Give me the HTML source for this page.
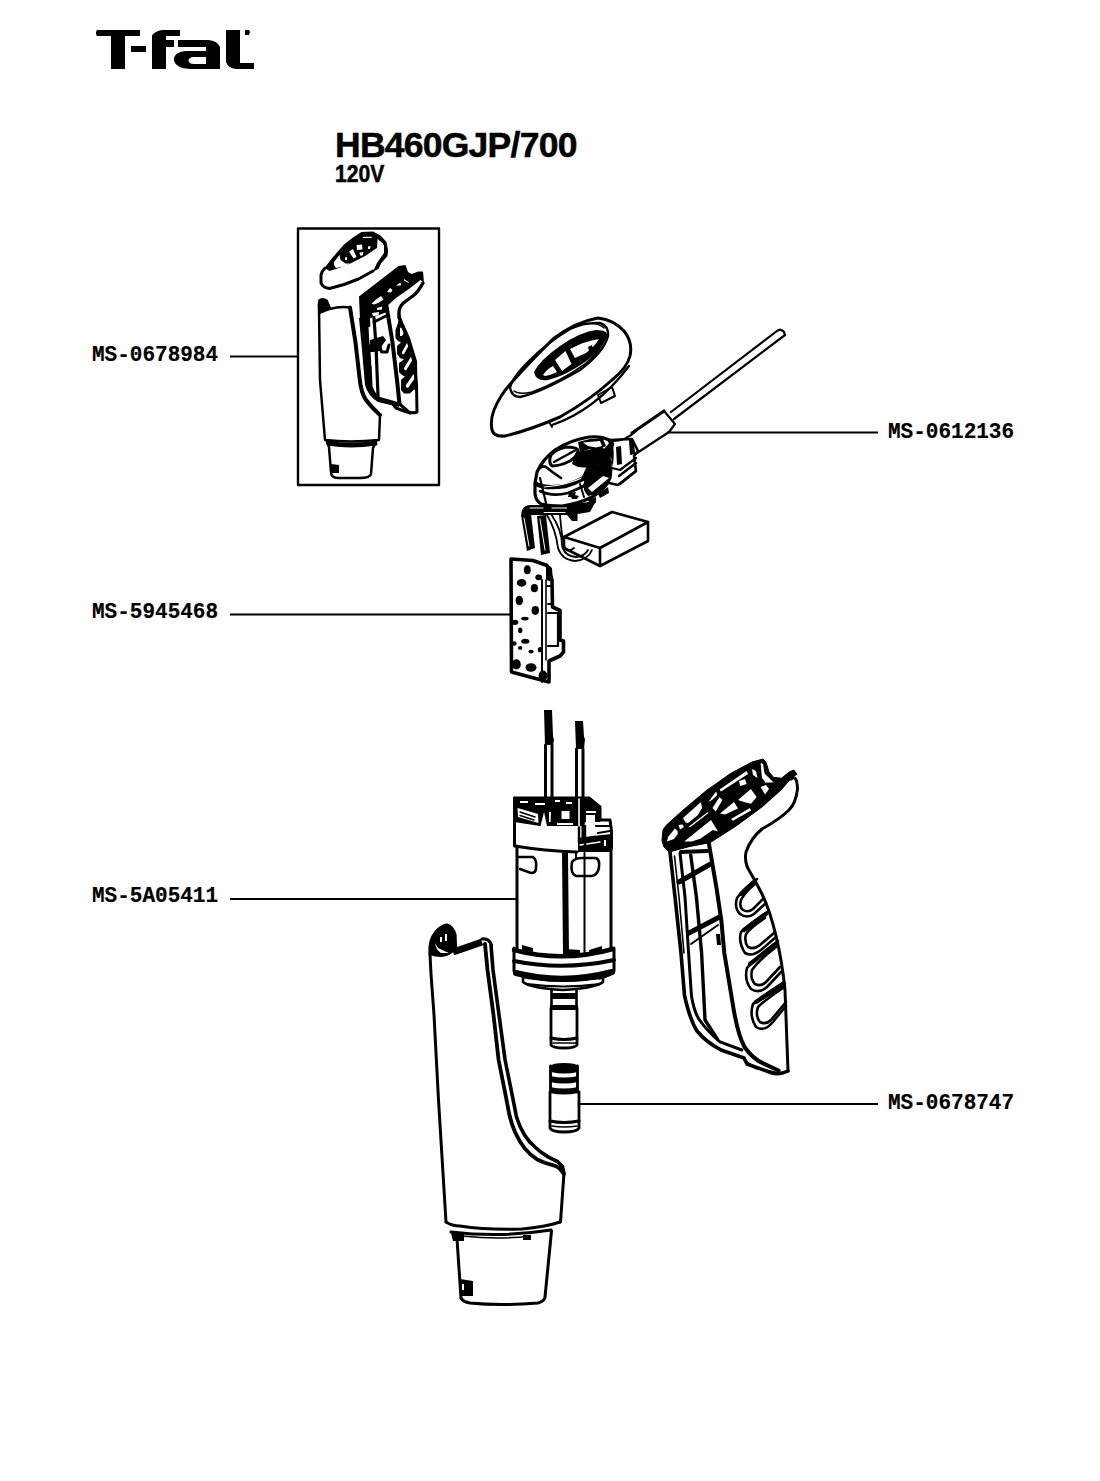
<!DOCTYPE html>
<html><head><meta charset="utf-8">
<style>
html,body{margin:0;padding:0;background:#fff;}
body{width:1100px;height:1481px;position:relative;overflow:hidden;}
.t{position:absolute;white-space:nowrap;color:#000;line-height:1;}
.title{font-family:"Liberation Sans",sans-serif;font-weight:bold;font-size:35.5px;-webkit-text-stroke:0.5px #000;left:335px;top:127.5px;letter-spacing:-0.75px;}
.volt{font-family:"Liberation Sans",sans-serif;font-weight:bold;font-size:23px;-webkit-text-stroke:0.5px #000;left:335px;top:163px;transform:scaleX(0.92);transform-origin:0 0;}
.lab{font-family:"Liberation Mono",monospace;font-weight:bold;font-size:22px;-webkit-text-stroke:0.2px #000;transform:scaleX(0.955);transform-origin:0 0;}
svg{position:absolute;left:0;top:0;}
</style></head><body>
<div class="t title">HB460GJP/700</div>
<div class="t volt">120V</div>
<div class="t lab" id="l1" style="left:92px;top:345px">MS-0678984</div>
<div class="t lab" id="l2" style="left:888px;top:422px">MS-0612136</div>
<div class="t lab" id="l3" style="left:92px;top:602px">MS-5945468</div>
<div class="t lab" id="l4" style="left:92px;top:886px">MS-5A05411</div>
<div class="t lab" id="l5" style="left:888px;top:1093px">MS-0678747</div>
<svg width="1100" height="1481" viewBox="0 0 1100 1481" fill="none" stroke="#000" stroke-width="2" stroke-linejoin="round" stroke-linecap="round">
<!-- logo -->
<g id="logo" fill="#000" stroke="none">
<path d="M97 30H140V36H97Q96 35 96 33Q96 31 97 30Z"/>
<path d="M111 35H125V69H111Z"/>
<path d="M131 46H146V52H131Z"/>
<path d="M152 69V35.5Q155 31 162 30H180V36H166V40H174V47H166V69Z"/>
<path fill-rule="evenodd" d="M178 40H208Q218 41 220 47V69H190Q176 68 174 61V58Q175 52 186 51H206V47H178ZM206 57H193Q188 58 188.5 60.5Q189 64 194 64H206Z"/>
<path d="M226 30H240V63H254V69H236Q228 68 226 62Z"/>
<path d="M245 30H249L250 32L249 35H245Z"/>
</g>
<!-- leader lines -->
<g stroke-width="2" stroke-linecap="butt">
<path d="M230 356.5H298"/>
<path d="M667 432.5H878"/>
<path d="M230 614.5H511"/>
<path d="M230 899H516"/>
<path d="M578 1104H878"/>
</g>
<!-- thumbnail -->
<g id="thumb">
<!-- cap -->
<path fill="#000" stroke="none" d="M324.5 268L333 257L344 244.5L353 237.5L361.5 232L373 231.5L380.5 235.5L386.5 242L388 250L387.5 256L381 263.5L378.5 269L373 271.5L377 263L384 253L384 244.5L377.5 247.5L366 255.5L351.5 263L340.5 267.5L329.5 271Z"/>
<path fill="none" stroke-width="3" d="M373 271L358.5 279L344 284.5L329.5 288.5Q323 288 321 283L321 275Q322 271 325 268"/>
<g fill="#fff" stroke="none">
<path d="M334 262L339.5 255L340.5 260L345.5 263.5H350L344 266.5L336 268L334 265Z"/>
<path d="M349 251.5L353 249L356.5 257L353.5 258.5Z"/>
<path d="M356.5 245L362 244.5L362.5 249.5L357 250Z"/>
<path d="M359.5 252.5L363.5 252L362.5 255.5L360 255.5Z"/>
<path d="M368 246.5L370.5 246L370 249H368Z"/>
<path d="M345 257.5L347 257L347 260L345 260Z"/>
<path d="M363 236.8H371.7V238H363Z"/>
<path d="M377.5 239L383 243.5L383 251L377 249.5Z"/>
</g>
<!-- tube -->
<path stroke-width="2.5" d="M319 308Q318 302 322 300Q328 300 330 309Q340 306 350 307.5L355.5 342.5L359.5 377.5Q361 393 366 400Q372 408 380 415L379 440Q350 443 325 440L320 380Z"/>
<path fill="#000" stroke="none" d="M318 300Q322 296 328 300L330 310L320 314Z"/>
<!-- collar -->
<path stroke-width="2.5" d="M327 442Q350 446 376 442L373 448L371 474Q370 478 360 478H338Q331 478 331 472L329 447Z"/>
<path stroke-width="3" d="M328 444Q350 448 376 444"/>
<path fill="#000" stroke="none" d="M331 464L339 465L339 473L332 473Z"/>
<!-- grip -->
<path fill="#000" stroke="none" d="M359 296.5L398.5 266L405.5 265L408 272L411.5 274L418.5 271.5H423L424 282.5L420.5 280L409.5 288.5L396 298L386.5 306.5L387 312L371 318L360 320Z"/>
<g fill="#fff" stroke="none">
<path d="M371.5 303.5Q376 299 381 296L383.5 299.5Q379 303 374 304.5Z"/>
<path d="M396 285.5L400.5 282.5L401 285.5Z"/>
<path d="M404 279L409 282.5L408.5 283L404 280.5Z"/>
<path d="M387 292L390 288L392.5 290L391 292.5Z"/>
<path d="M377 308L382 306.5L382 309.5L377 310Z"/>
<path d="M372 313L379 312L378.5 315.5L373 316Z"/>
</g>
<path stroke-width="3.4" d="M423 283Q418 292 413.5 295.5L404 302.5Q399 307 399 312L399 318"/>
<!-- arm -->
<path fill="#000" stroke="none" d="M359 318L370 316L371 350L372.5 386Q375 394 380 397L398 402L399 407L378 402Q368 396 365 385L362 350Z"/>
<path fill="#fff" stroke="none" d="M368.5 327L371 326.5L372.5 344L369.5 344.5Z"/>
<path fill="#fff" stroke="none" d="M370.5 352L372.5 351.5L374 366L371.5 366Z"/>
<path stroke-width="3.2" d="M374 318L376 346L378 396"/>
<path stroke-width="4" d="M386.5 306L392.5 342.5L397 380L399.5 404"/>
<path fill="#000" stroke="none" d="M370 340L383 336L386 340L381 347L380 351L373 352L370 352Z"/>
<path stroke-width="3" d="M374 322L386 316"/>
<path stroke-width="3" d="M380 346L381.5 352L387 352L389 345"/>
<!-- tube right edge thick -->
<path stroke-width="4" d="M350 307.5L355.5 342.5L359.5 377.5Q361 393 366 400Q372 408 380 415"/>
<!-- holes -->
<path fill="#000" stroke="none" d="M399 313L398 323L395.5 330V338L398 341L401 342.5L397 346V354L400 358L404 359.5L399 363V372L402 375L405 376.5L401 380V390L404 393.5H410L414 389.5L417.5 391L417 361L410 338Z"/>
<g fill="#fff" stroke="none">
<path d="M400 328L403 326.5L404 333L402 336L400 336Z"/>
<path d="M402 352L407.5 342L409 345L404 354L402.5 354.5Z"/>
<path d="M404 368L411.5 356L413 359L406 370.5L404.5 370Z"/>
<path d="M406 385L413.5 374L415 378L408 388L406 387Z"/>
</g>
<path stroke-width="3" d="M399.5 316Q400 322 404 330Q410 345 414 362L416.5 385L417 412Q412 414 404 411L396 408L392 403"/>
<path stroke-width="3" d="M399.5 404L410 413"/>
</g>
<!-- top cap -->
<g id="cap">
<path stroke-width="3" d="M492 430Q490 420 494 410Q500 395 512 382Q530 362 553 339Q575 322 598 318Q614 320 624 331Q633 342 630 356Q627 368 612 380Q590 400 560 417Q530 430 505 436Q494 437 492 430Z"/>
<path stroke-width="2.4" d="M510 388Q512 397 520 397Q540 393 580 370Q604 352 608 336Q609 326 600 323Q585 322 570 329Q548 342 528 362Q512 378 510 388Z"/>
<path stroke-width="1.6" d="M514 391Q519 395 532 392Q560 382 585 364Q602 350 605 336"/>
<path stroke-width="1.4" d="M585 324Q598 322 604 328"/>
<path fill="#000" stroke="none" d="M534 372Q540 360 560 346Q580 332 596 330Q608 330 607 336Q604 348 585 362Q565 376 548 380Q536 382 534 372Z"/>
<path fill="#fff" stroke="none" d="M543 375Q547 369 553 366L557 372Q551 375 545 376Z"/>
<path fill="#fff" stroke="none" d="M555 360L565.5 351L571.5 364L562 371Z"/>
<path fill="#fff" stroke="none" d="M570 349Q585 341 599 339Q595 346 586 353L575 358Z"/>
<path fill="#000" stroke="none" d="M588 347L592 345L593 350L589 351Z"/>
<path stroke-width="2.2" d="M552 425Q596 410 629 366"/>
<path stroke-width="2" d="M598 395L612 387L615 396L601 403Z"/>
<path stroke-width="1.8" d="M549 422L552 427"/>
</g>
<!-- cable -->
<g id="cable">
<path stroke-width="2.2" d="M671 412L777 331Q781 328 784 332L785 335L674 419"/>
<path stroke-width="2.2" d="M664 411L675 424L669 432L637 453"/>
<path stroke-width="3.2" d="M664 411L632 433"/>
<path stroke-width="2" d="M612 441Q626 441 636 431"/>
</g>
<!-- switch -->
<g id="switch">
<path fill="#fff" stroke="#000" stroke-width="3.2" d="M589 437Q570 440 555 450Q542 460 537 472L535 483V494Q536 501 541 504Q548 506 562 506Q578 504 592 497Q606 489 610 478L612 458Q613 446 609 440Q602 436 589 437Z"/>
<!-- face ring -->
<path stroke-width="4.5" d="M536 484Q546 489 565 486Q585 480 598 468Q609 456 612 444"/>
<path stroke="#fff" stroke-width="1.2" d="M544 487Q566 486 586 476Q602 465 608 450"/>
<!-- knob -->
<path fill="#000" stroke="none" d="M576 452L588 450L600 447L605 449L602 462L590 468L578 467L572 464Z"/>
<path fill="#000" stroke="none" d="M578 442L590 439L603 439L606 446L600 449L590 449L580 452Z"/>
<path fill="#fff" stroke="none" d="M583 442.5L600 441L602 446L596 447.5L588 446Z"/>
<path stroke-width="3" d="M552 466Q548 462 551 455Q556 449 566 447Q576 447 578 450Q578 456 570 461Q560 466 552 466Z"/>
<path stroke-width="2.4" d="M554 462L575 450.5"/>
<path stroke-width="2.6" d="M538 470Q542 465 546 467Q552 472 561 478"/>
<!-- lower band -->
<path fill="#000" stroke="none" d="M604 449L611 441L613 460L610 478L598 490L586 494L583 484L596 472Z"/>
<path fill="#fff" stroke="none" d="M605 463L611 457L613 468L609 472Z"/>
<path fill="#000" stroke="none" d="M586 468L600 458L598 470L588 478L580 481Z"/>
<path fill="#000" stroke="none" d="M584 480Q598 470 610 456L612 462L611 478Q606 488 596 494L588 496L584 490Z"/>
<path fill="#fff" stroke="none" d="M588 488L603 476L609 478L592 492Z"/>
<path stroke-width="2.6" d="M540 491Q552 497 568 493Q580 488 586 485"/>
<path stroke-width="2" d="M580 484L584 497"/>
<path fill="#000" stroke="none" d="M569 493L576 492L575 495L579 496L577 499L572 499L571 497L568 497Z"/>
<path stroke-width="2.2" d="M540 478L546 503"/>
<path fill="#000" stroke="none" d="M598 494L608 487L609 493L600 498Z"/>
<path fill="#000" stroke="none" d="M588 500L596 497L596 503L590 504Z"/>
<!-- connector block -->
<path stroke-width="2.6" d="M610 440L632 439L638 451L634 456L636 471L618 485L609 483"/>
<path fill="#000" stroke="none" d="M616 447L621 446L622 464L617 465Z"/>
<path fill="#000" stroke="none" d="M629 440L634 440L635 454L630 455Z"/>
<path stroke-width="2.4" d="M619 476L636 463"/>
<path stroke-width="2.4" d="M620 484L636 471"/>
<path stroke-width="2.2" d="M612 468L620 470L636 458"/>
<!-- wires/connectors -->
<path fill="#000" stroke="none" d="M521 516Q521 505 531 505H576V515H531L527 517Z"/>
<path stroke="#fff" stroke-width="1" d="M530 508H543M552 508H568M544 512.5H565"/>
<path fill="#000" stroke="none" d="M521 515L531 514L535 548L527 551Z"/>
<path fill="#000" stroke="none" d="M537 516L546 515L550 553L541 555Z"/>
<path stroke="#fff" stroke-width="1" d="M524 518L529 546M540 519L545 550"/>
<path stroke-width="1.8" d="M547 515Q556 530 558 548Q562 560 575 561Q588 560 592 550"/>
<path stroke-width="1.8" d="M551 514Q562 530 562 545Q564 556 576 557Q585 556 588 550"/>
<path stroke-width="1.8" d="M560 515Q562 540 565 548Q568 553 574 548"/>
<path fill="#000" stroke="none" d="M567 505L596 501L590 512L577.5 514L577.5 521L572 521L567 515Z"/>
</g>
<!-- capacitor box -->
<g id="capbox" stroke-width="2.6">
<path d="M564 537L612 512L648 522L600 548Z"/>
<path d="M648 522V541L600 566V548"/>
<path d="M564 537V548L600 566"/>
</g>
<!-- pcb -->
<g id="pcb">
<path stroke-width="3.6" d="M511 559L533 560.5L547 565.5L552 580L552.5 607L560 610.5V640L563.5 641V652L560 656L549 661V682L530 677L511.5 672Z"/>
<path stroke-width="2" d="M542 580V682"/>
<path stroke-width="1.6" d="M546 580V660"/>
<path stroke-width="2.2" d="M548 613H558V646H548"/>
<path stroke-width="1.8" d="M547 586L552 586V604H548"/>
<path fill="#000" stroke="none" d="M546 563L552 568L553 582L546 580Z"/>
<g fill="#000" stroke="none">
<ellipse cx="527.3" cy="569.8" rx="3.4" ry="4.5"/>
<ellipse cx="538.7" cy="577.3" rx="3.4" ry="2.9"/>
<ellipse cx="521.6" cy="582.9" rx="4.8" ry="3.8"/>
<ellipse cx="534.4" cy="588.2" rx="3.6" ry="4.1"/>
<ellipse cx="519.3" cy="600.5" rx="3.7" ry="4.8"/>
<ellipse cx="535.3" cy="610.5" rx="3.7" ry="4.4"/>
<ellipse cx="524.9" cy="618.6" rx="3.8" ry="1.9"/>
<ellipse cx="515.0" cy="622.3" rx="3.3" ry="2.6"/>
<ellipse cx="520.2" cy="630.3" rx="2.2" ry="2.9"/>
<ellipse cx="525.3" cy="641.2" rx="4.1" ry="2.5"/>
<ellipse cx="514.1" cy="643.5" rx="2.6" ry="2.2"/>
<ellipse cx="520.2" cy="647.9" rx="2.2" ry="1.9"/>
<ellipse cx="531.1" cy="651.6" rx="2.6" ry="1.9"/>
<ellipse cx="540.1" cy="649.7" rx="2.3" ry="2.6"/>
<ellipse cx="516.4" cy="664.4" rx="4.4" ry="5.1"/>
<ellipse cx="531.0" cy="667.5" rx="5.5" ry="4.3"/>
<ellipse cx="543.0" cy="675.6" rx="4.4" ry="5.1"/>
</g>
</g>
<!-- motor -->
<g id="motor">
<!-- terminals -->
<path fill="#000" stroke="none" d="M544 710H552L553 736L554 740L553 745H545Z"/>
<path stroke-width="3" d="M545.5 745V797M552 745V797"/>
<path fill="#000" stroke="none" d="M575 721H583L584 737L585 739L584 749H576Z"/>
<path stroke-width="3" d="M576.5 749V800M583 749V842"/>
<path stroke-width="2.4" d="M579 800V842"/>
<!-- cap -->
<path stroke-width="3" d="M514.5 798H589L600 807V820H610L611.5 831V848"/>
<path stroke-width="3" d="M514.5 798V846Q545 851 577 852"/>
<path fill="#000" stroke="none" d="M514 797H589L600 807V822H585L584 826L578 826L557 826L545 826L540 826L514 822Z"/>
<path fill="#fff" stroke="none" d="M520 801H528V803H520ZM535 803H545V805H535ZM566 802H572V804H566Z"/>
<path fill="#fff" stroke="none" d="M517.5 808L538 814L538.5 823L518 817Z"/>
<path stroke-width="1.4" d="M520 812L535 817M520 815.5L534 820"/>
<path fill="#fff" stroke="none" d="M540.5 826L544 812L547 826Z"/>
<path fill="#fff" stroke="none" d="M549 812L551 812L550.5 822L549 822Z"/>
<path fill="#fff" stroke="none" d="M561.5 811H569.5V819H561.5Z"/>
<path fill="#fff" stroke="none" d="M557 823H573V825H557Z"/>
<path fill="#fff" stroke="none" d="M555 800H560V802H555Z"/>
<path fill="#fff" stroke="none" d="M586 811H596V813H586Z"/>
<path fill="#fff" stroke="none" d="M586 815H595V822H586Z"/>
<path stroke="#fff" stroke-width="1.6" d="M579 799V826"/>
<path fill="#000" stroke="none" d="M578 838L592 836L612 834V852H578Z"/>
<path stroke-width="2.2" d="M596 826H610M598 833L610 831"/>
<path stroke="#fff" stroke-width="1.4" d="M580 845L600 842"/>
<path fill="#fff" stroke="none" d="M604 840H606V846H604Z"/>
<path stroke-width="2.4" d="M585 826V850"/>
<!-- body -->
<path stroke-width="3" d="M517 846V950M611 845V950"/>
<path stroke-width="2.6" d="M519 857H533Q537 860 536 868Q536 873 531 873L520 869"/>
<path stroke-width="2.6" d="M572 862Q575 858 582 858H596Q600 860 599 867Q598 875 592 876H576Q570 874 572 862Z"/>
<path fill="#000" stroke="none" d="M562 853H568L569 955H563Z"/>
<path stroke-width="2" d="M584.5 853V955"/>
<path stroke-width="2" d="M576 852V858"/>
<path fill="#000" stroke="none" d="M522 945L533 948V955L522 952Z"/>
<path fill="#000" stroke="none" d="M566 949L580 950V957L566 957Z"/>
<path fill="#000" stroke="none" d="M589 950L602 946V953L590 956Z"/>
<!-- rings -->
<path stroke-width="4.5" d="M514 950Q563 963 613 949"/>
<path stroke-width="4" d="M514 961Q563 971 614 960"/>
<path stroke-width="3" d="M514 948V971Q520 977 530 978Q563 983 600 978Q612 975 614 971V948"/>
<path stroke-width="2.6" d="M523 978V982Q530 988 563 990Q596 988 603 982V977"/>
<path stroke-width="6" d="M516 973Q563 985 612 972"/>
<path stroke="#fff" stroke-width="1.2" d="M530 980Q563 986 598 980"/>
<path stroke-width="1.8" d="M527 984Q563 989 600 984"/>
<!-- shaft -->
<path stroke-width="2.6" d="M551.5 989V1006M576.5 989V1006"/>
<path fill="#000" stroke="none" d="M551 993H577V999H551Z"/>
<path fill="#000" stroke="none" d="M550 1005H578V1010H550Z"/>
<path stroke-width="2.8" d="M551 1008V1045Q553 1048 564 1048Q575 1048 577 1045V1008"/>
<path stroke-width="3" d="M551 1038Q564 1041 577 1038"/>
<path stroke-width="1.6" d="M553 1043H576"/>
</g>
<!-- coupler -->
<g id="coupler">
<path fill="#000" stroke="none" d="M551 1066Q552 1063 564 1063Q576 1063 578 1066V1072Q564 1075 551 1072Z"/>
<path stroke-width="2.8" d="M550.5 1066V1092M577.5 1066V1092"/>
<path fill="#000" stroke="none" d="M550 1076Q564 1079 578 1076V1082Q564 1085 550 1082Z"/>
<path fill="#000" stroke="none" d="M550 1087Q564 1090 578 1087V1093Q564 1096 550 1093Z"/>
<path stroke-width="2.8" d="M550 1092V1128Q552 1132 564 1132Q577 1132 579 1128V1092"/>
<path stroke-width="3" d="M550 1121Q564 1124 579 1121"/>
<path stroke-width="1.6" d="M552 1126Q564 1128 577 1126"/>
</g>
<!-- shell -->
<g id="shell">
<path stroke-width="3.2" d="M430 954Q429 940 436 932Q442 925 447 925Q453 927 455 935L455.5 947"/>
<path fill="#000" stroke="none" d="M429 954Q428 940 435 931Q442 924 448 925Q454 928 455 936L456 948Q452 956 442 957Q432 957 429 954Z"/>
<path fill="#fff" stroke="none" d="M435 943Q436 950 441 953H449Q444 951 438 948Z"/>
<path fill="#fff" stroke="none" d="M440 937H442V942H440ZM445 934H447V941H445Z"/>
<path stroke-width="7" stroke-linecap="butt" d="M453 952Q468 947 482 942"/>
<path stroke-width="3" d="M482 939Q489 938 491.5 945"/>
<path stroke-width="3.8" d="M485 944L487.5 970L493.5 1015L498.6 1060L505.1 1092.7L509.2 1114Q511.5 1124 515 1132Q519 1141 524.7 1148.4Q530 1155 537.8 1159.8Q544 1163 551 1164.7Q556 1166 559.1 1168L563.2 1173"/>
<path stroke-width="3.6" d="M491 945L493 970L499 1015L505.1 1060L511.7 1092.7L516.6 1117.3Q519.5 1127 524.7 1135.3Q529 1142 534.6 1146.7Q540 1152 547.7 1156.6Q553 1159.5 557.5 1161.5L562.4 1166.4L564 1174"/>
<path stroke-width="3" d="M430 954L431 974L434 1015L438.5 1100L446 1222"/>
<path stroke-width="3" d="M564 1173L560.5 1222"/>
<path stroke-width="3" d="M446 1222Q452 1226 460 1226Q486 1230 522 1229Q545 1227 560 1222"/>
<path stroke-width="3" d="M451 1232Q500 1238 551 1230"/>
<path stroke-width="1.6" d="M462 1236Q500 1240 530 1236"/>
<path fill="#000" stroke="none" d="M451 1233H464V1241H453Z"/>
<path fill="#000" stroke="none" d="M523 1235H531V1240H523Z"/>
<path stroke-width="3" d="M457 1239L461 1298Q463 1302 470 1303Q500 1306 538 1303Q545 1301 545 1297L551.5 1231"/>
<path fill="#000" stroke="none" d="M460 1279L473 1281V1296H462Z"/>
<path fill="#fff" stroke="none" d="M462 1284H464V1290H462Z"/>
</g>
<!-- grip -->
<g id="grip">
<path fill="#000" stroke="#000" stroke-width="1" d="M662 840L663 830L666 825.5L682 811L707 790L715 784.5L730.5 773.5L752 762L763 759L766 762L769 772L773.7 777.4L781.5 778.2L789.2 772L793.8 770L797 774.3L792.3 777L781 790L762.7 806.4L735.5 826.4L710 842.7L690 846.4L669 852L664 847Z"/>
<g fill="#fff" stroke="none">
<path d="M667 841.6L668 837L675 828.5L677.5 831L677.8 834L674 839Z"/>
<path d="M678.5 825L682.5 824.5L684 827L680 829.5Z"/>
<path d="M683 818L701 802L702 808L698 815L688 823L685.5 822.5Z"/>
<path d="M684.2 841.6L711 820L718 831.4L712.8 830.1L700.7 838.4L691.8 841.6Z"/>
<path d="M708.4 802L716 791.5L717.3 795L712 800Z"/>
<path d="M712.5 808L719.5 797L722.4 800L715.8 811.6Z"/>
<path d="M719.6 789.5L746.5 771L748 774L721 791.5Z"/>
<path d="M739 781L745 779L746.7 784L740 786Z"/>
<path d="M752 769L756 771L757.5 778L753 775Z"/>
<path d="M760.6 763L763 764L766 782.8L762 778Z"/>
<path d="M764 773L773.7 782.5L765 782.5Z"/>
<path d="M760.6 787L766 785L769 789L765 794.4Z"/>
<path d="M738 800L750.8 789L756.7 797L751 803.7L744 802Z"/>
<path d="M720 813.5L734 802L738 808.5L725 814.5Z"/>
<path d="M731 819L750 808L751 810.5L733 820.7Z"/>
</g>
<path stroke="#fff" stroke-width="1.4" d="M690 826.5L707.5 813"/>
<path stroke-width="3" d="M791 779Q797 774 797.5 789Q796 803 789 810Q780 819 762 829Q751 838 746 852Q744 863 750 872Q756 882 762 894C772 915 781 950 785 990L788 1071"/>
<path stroke-width="3.6" d="M788 1071Q780 1075 772 1073L747 1064L744 1058L721 1050Q706 1042 697 1031Q690 1020 684.5 995.5L681 953L675 897L670 852"/>
<path stroke-width="1.6" d="M674.5 856L679 897L684 953"/>
<path stroke-width="3" d="M680 853L685 897L688.6 953L691.4 995.5Q694 1012 699.5 1020Q708 1032 720 1041.8L741.8 1050"/>
<path stroke-width="3.4" d="M690.7 855L696.4 897L701.6 953L705 1020L717.3 1039"/>
<path stroke-width="4" d="M709 844L716.6 888.6L721.4 921L724.3 953L733.6 1009Q738 1035 744.5 1047Q753 1059 763.6 1063.6L778.6 1070.5"/>
<path stroke-width="4" d="M681 852L707 851"/>
<path stroke-width="5" d="M679 882L711.5 863.5"/>
<path stroke-width="5" d="M689 933L719.5 917"/>
<path stroke-width="2" d="M691 944L718 925"/>

<path fill="#000" stroke="none" d="M716 934L720 934L721 945L717 945Z"/>
<path stroke-width="2" d="M747 1062L755 1068L778 1073"/>
<!-- holes -->
<g stroke-width="4.2"><path d="M755 881L741 894"/><path d="M766 914L744 930"/><path d="M777 943L750 964"/><path d="M784 984L756 1002"/></g>
<g stroke-width="2.6">
<path d="M757 879Q744 888 737 898Q734 908 740 914Q747 919 754 914L766 903"/>
<path d="M755 884Q745 892 741 900Q739 907 743 910Q748 913 753 909L764 898"/>
<path d="M767 912Q748 925 741 932Q738 942 745 953Q752 957 761 950L776 937"/>
<path d="M765 918Q751 927 746 934Q744 942 748 947Q754 950 760 945L774 933"/>
<path d="M778 941Q755 958 747 968Q744 980 751 989Q759 994 767 987L781 972"/>
<path d="M776 947Q758 961 752 970Q750 979 755 984Q761 987 766 982L780 967"/>
<path d="M784 982Q762 996 753 1004Q749 1016 756 1027Q764 1032 772 1023L786 1006"/>
<path d="M783 988Q765 1000 758 1007Q755 1016 760 1022Q766 1025 771 1020L786 1002"/>
</g>
</g>
<!-- box -->
<rect x="298" y="228.5" width="141" height="256.5" stroke-width="2.4"/>
</svg>
</body></html>
